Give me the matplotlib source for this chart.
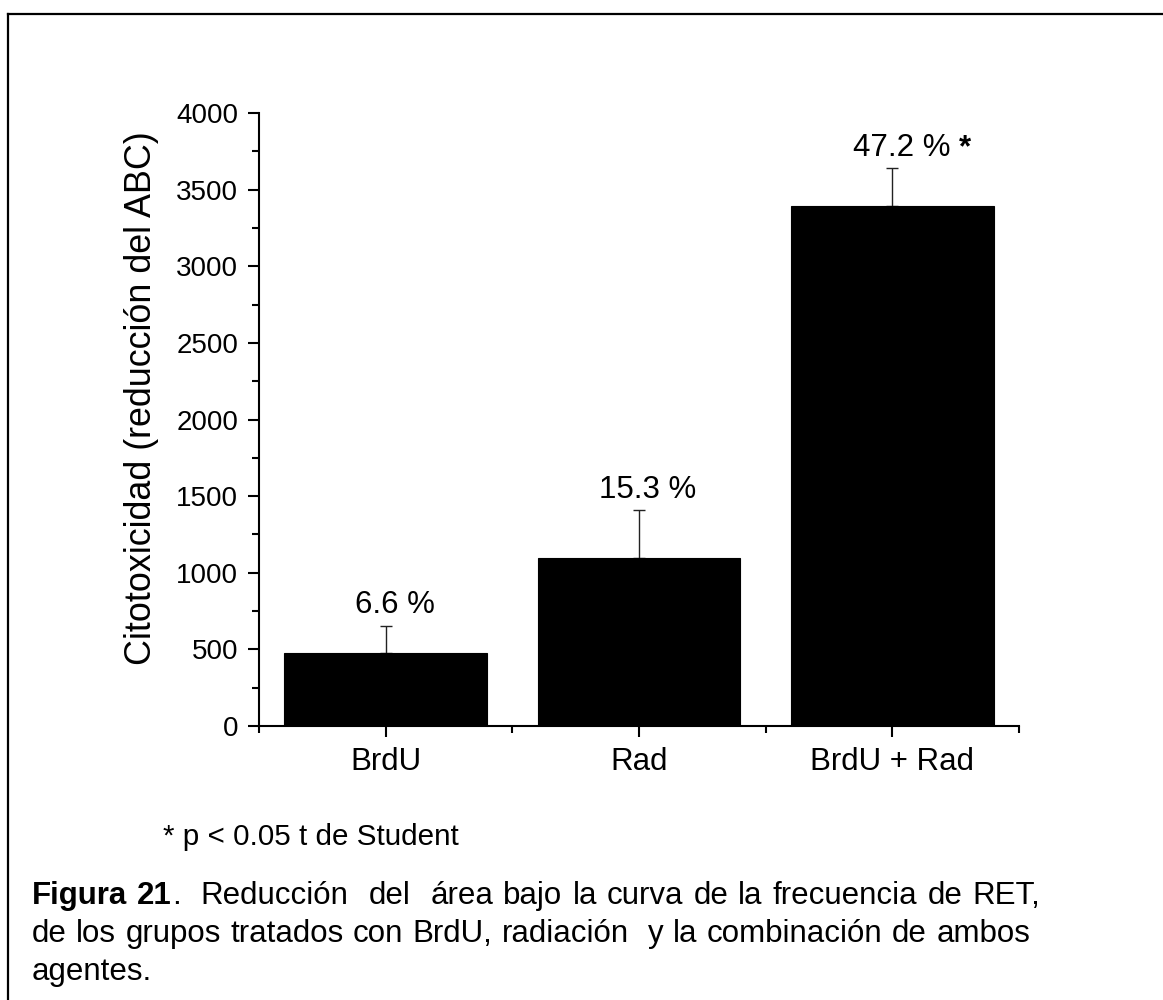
import re
import matplotlib
matplotlib.use('Agg')
import matplotlib.pyplot as plt
from matplotlib.lines import Line2D
from matplotlib.ticker import MultipleLocator, FixedLocator
import numpy as np

# ---- data ----
categories = ['BrdU', 'Rad', 'BrdU + Rad']
values = [474, 1095, 3393]
errors = [180, 314, 246]
pct_labels = ['6.6 %', '15.3 %', '47.2 %']
significant = [False, False, True]
y_label = 'Citotoxicidad (reducción del ABC)'
note_text = '* p < 0.05 t de Student'
caption_bold = 'Figura 21'
caption_line1 = '.  Reducción  del  área bajo la curva de la frecuencia de RET,'
caption_line2 = 'de los grupos tratados con BrdU, radiación  y la combinación de ambos'
caption_line3 = 'agentes.'

W, H = 1163, 1000
plt.rcParams['font.family'] = ['Liberation Sans', 'DejaVu Sans']
fig = plt.figure(figsize=(W / 100, H / 100), dpi=100)


def fx(px):
    return px / W


def fy(py):
    return 1 - py / H


# outer frame (top and left edges visible)
fig.add_artist(Line2D([fx(8), 1.0], [fy(14), fy(14)], transform=fig.transFigure,
                      color='black', lw=1.6, solid_capstyle='projecting'))
fig.add_artist(Line2D([fx(8), fx(8)], [fy(14), 0.0], transform=fig.transFigure,
                      color='black', lw=1.6, solid_capstyle='projecting'))

ax = fig.add_axes([fx(259), fy(726), (1019 - 259) / W, (726 - 113) / H])
x = np.arange(1, len(categories) + 1)
ax.bar(x, values, width=0.8, color='black', edgecolor='black', linewidth=0.8, zorder=2)
ax.errorbar(x, values, yerr=[np.zeros(len(values)), errors], fmt='none',
            ecolor='#222222', elinewidth=1.0, capsize=4.3, capthick=1.0, zorder=1)

ax.set_xlim(0.5, len(categories) + 0.5)
ax.set_ylim(0, 4000)
for s in ['top', 'right']:
    ax.spines[s].set_visible(False)
for s in ['left', 'bottom']:
    ax.spines[s].set_linewidth(1.5)

ax.set_xticks(x, categories)
ax.xaxis.set_minor_locator(FixedLocator(np.arange(0.5, len(categories) + 1, 1.0)))
ax.yaxis.set_major_locator(MultipleLocator(500))
ax.yaxis.set_minor_locator(MultipleLocator(250))
ax.tick_params(which='major', direction='out', length=8, width=1.5)
ax.tick_params(which='minor', direction='out', length=5, width=1.5)
ax.tick_params(axis='y', labelsize=20, pad=7)
ax.tick_params(axis='x', which='major', labelsize=22.5, pad=7)

ax.set_ylabel(y_label, fontsize=25.8)
ax.yaxis.set_label_coords(-0.1316, 0.535)

for xi, v, e, lab, sig in zip(x, values, errors, pct_labels, significant):
    t = ax.annotate(lab, xy=(xi, v + e), xytext=(6.5, 9), textcoords='offset points',
                    ha='center', va='baseline', fontsize=22.5)
    if sig:
        ax.annotate('*', xy=(1, 0), xycoords=t, xytext=(6, 0), textcoords='offset points',
                    ha='left', va='bottom', fontsize=22.5, fontweight='bold')

# notes / caption
CAP_FS = 22.5
fig.text(fx(163), fy(845), note_text, fontsize=21.3, va='baseline', ha='left')


def tokens(s, weight):
    return [(m.group(2), weight, len(m.group(1))) for m in re.finditer(r'( *)(\S+)', s)]


def place_line(segs, x0, x1, ybase, justify=True):
    arts = [fig.text(fx(x0), fy(ybase), t, fontsize=CAP_FS, fontweight=w,
                     va='baseline', ha='left') for t, w, _ in segs]
    renderer = fig.canvas.get_renderer()
    widths = [a.get_window_extent(renderer).width for a in arts]
    gaps = [g for _, _, g in segs]
    gaps[0] = 0
    total_gap_units = sum(gaps)
    if justify and total_gap_units > 0:
        unit = (x1 - x0 - sum(widths)) / total_gap_units
    else:
        unit = 0.278 * CAP_FS * 100 / 72
    pos = x0
    for a, wd, g in zip(arts, widths, gaps):
        pos += g * unit
        a.set_x(fx(pos))
        pos += wd


place_line(tokens(caption_bold, 'bold') + tokens(caption_line1, 'normal'), 32, 1040, 904)
place_line(tokens(caption_line2, 'normal'), 32, 1030, 942)
place_line(tokens(caption_line3, 'normal'), 32, 1030, 980, justify=False)

fig.savefig('out.png', dpi=100)
